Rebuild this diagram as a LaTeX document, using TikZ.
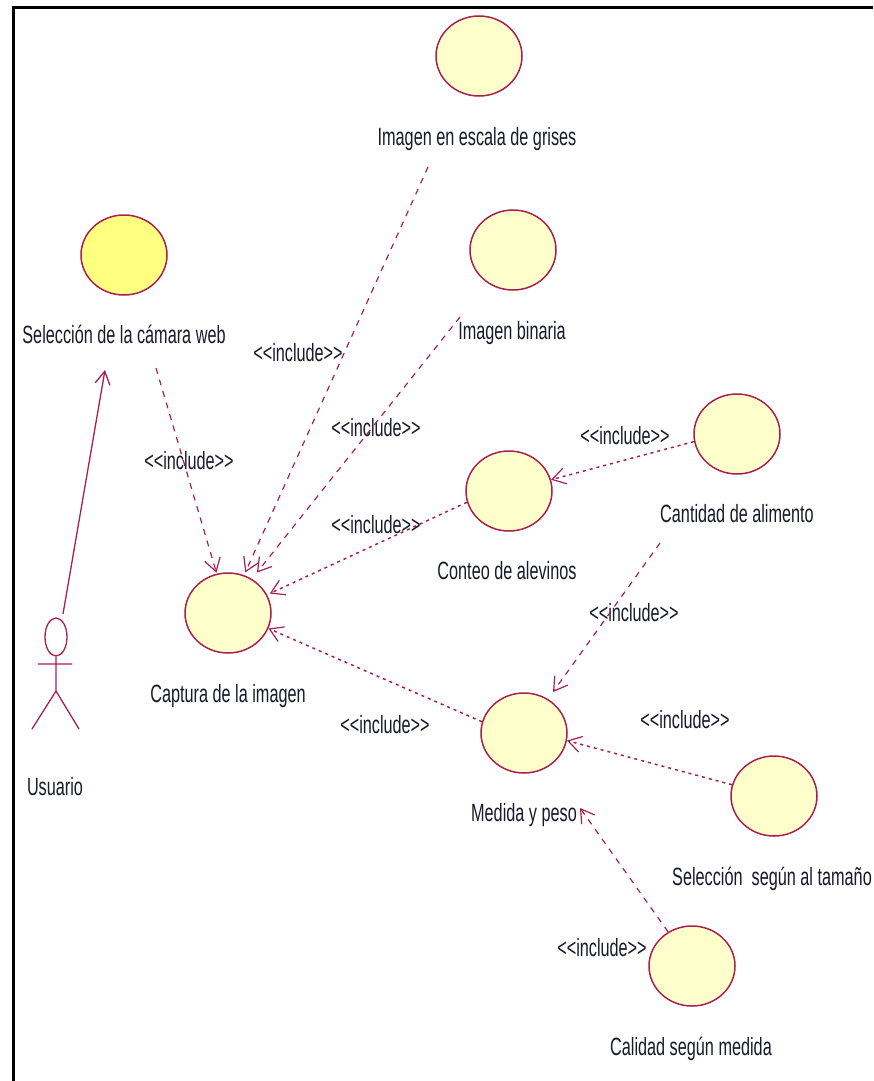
\documentclass[tikz,border=0pt]{standalone}
\usepackage{fontspec}
\setmainfont[FakeStretch=0.65]{Liberation Sans}
\usetikzlibrary{arrows.meta,shapes.geometric}
\definecolor{umlline}{HTML}{A8204F}
\definecolor{umlfill}{HTML}{FFFFCB}
\definecolor{umlsel}{HTML}{FFFF80}
\definecolor{umltext}{HTML}{161A2A}
\tikzset{
  usecase/.style={ellipse,draw=umlline,fill=umlfill,line width=1.5pt,minimum width=86pt,minimum height=80pt,inner sep=0pt},
  lbl/.style={text=umltext,font=\fontsize{25}{28}\selectfont,inner sep=0pt,anchor=center,text height=19pt,text depth=3pt},
  stereo/.style={lbl},
  incl/.style={draw=umlline,line width=1.2pt,dash pattern=on 6pt off 6pt,-{Straight Barb[length=13pt,width=16pt,line width=1.2pt]}},
  incld/.style={incl,line width=1.5pt,dash pattern=on 3pt off 4pt},
  assoc/.style={draw=umlline,line width=1.3pt,-{Straight Barb[length=13pt,width=15pt,line width=1.3pt]}},
  actorline/.style={draw=umlline,line width=1.3pt}
}
\begin{document}
\begin{tikzpicture}[x=1pt,y=-1pt]
\useasboundingbox (0,0) rectangle (873,1081);
\draw[line width=3pt,black] (13,1081) -- (13,8) -- (873,8);
% use cases
\node[usecase] (grises) at (479,56) {};
\node[usecase,fill=umlsel] (camara) at (124,255) {};
\node[usecase] (binaria) at (513,250) {};
\node[usecase] (alimento) at (737,434) {};
\node[usecase] (conteo) at (509,491) {};
\node[usecase] (captura) at (228,613) {};
\node[usecase] (medida) at (524,733) {};
\node[usecase] (tamano) at (774,796) {};
\node[usecase] (calidad) at (692,966) {};
% labels
\node[lbl] (lgrises) at (477,137) {Imagen en escala de grises};
\node[lbl] (lcamara) at (124,335) {Selección de la cámara web};
\node[lbl] (lbinaria) at (512,331) {Imagen binaria};
\node[lbl] (lalimento) at (737,514) {Cantidad de alimento};
\node[lbl] (lconteo) at (507,571) {Conteo de alevinos};
\node[lbl] (lcaptura) at (228,694) {Captura de la imagen};
\node[lbl] (lmedida) at (524,813) {Medida y peso};
\node[lbl] (ltamano) at (772,877) {Selección\ \ según al tamaño};
\node[lbl] (lcalidad) at (691,1047) {Calidad según medida};
\node[lbl] (lusuario) at (55,787) {Usuario};
% stereotypes
\node[stereo] (s1) at (298,353) {<{}<include>{}>};
\node[stereo] (s2) at (376,428) {<{}<include>{}>};
\node[stereo] (s3) at (189,461) {<{}<include>{}>};
\node[stereo] (s4) at (376,525) {<{}<include>{}>};
\node[stereo] (s5) at (625,436) {<{}<include>{}>};
\node[stereo] (s6) at (634,613) {<{}<include>{}>};
\node[stereo] (s7) at (385,725) {<{}<include>{}>};
\node[stereo] (s8) at (685,720) {<{}<include>{}>};
\node[stereo] (s9) at (602,948) {<{}<include>{}>};
% actor
\node[ellipse,draw=umlline,line width=1.3pt,minimum width=22pt,minimum height=38pt,inner sep=0pt] (head) at (56,637) {};
\coordinate (hip) at (56,691);
\coordinate (arml) at (38,664);
\coordinate (armr) at (72,664);
\coordinate (legl) at (32,729);
\coordinate (legr) at (79,729);
\coordinate (astart) at (63,614);
\draw[actorline] (head.south) -- (hip) -- (legl) (hip) -- (legr) (arml) -- (armr);
% free ends
\coordinate (e1) at (428,167);
\coordinate (e2) at (460,317);
\coordinate (e3) at (156,368);
\coordinate (e4) at (660,543);
\coordinate (e5) at (105,370);
\coordinate (e6) at (580,808);
\coordinate (e7) at (553,692);
% connectors
\draw[incl,shorten >=3pt] (e1) -- (captura.67);
\draw[incl,shorten >=8pt] (e2) -- (captura.55);
\draw[incl,shorten >=1pt] (e3) -- (captura.106);
\draw[incld,shorten >=3pt] (conteo.195) -- (captura.25);
\draw[incld] (medida.165) -- (captura.-21);
\draw[incld] (alimento.190) -- (conteo.15);
\draw[incl] (e4) -- (e7);
\draw[incld] (tamano.165) -- (medida.-10);
\draw[incl] (calidad.125) -- (e6);
\draw[assoc] (astart) -- (e5);
\end{tikzpicture}
\end{document}
